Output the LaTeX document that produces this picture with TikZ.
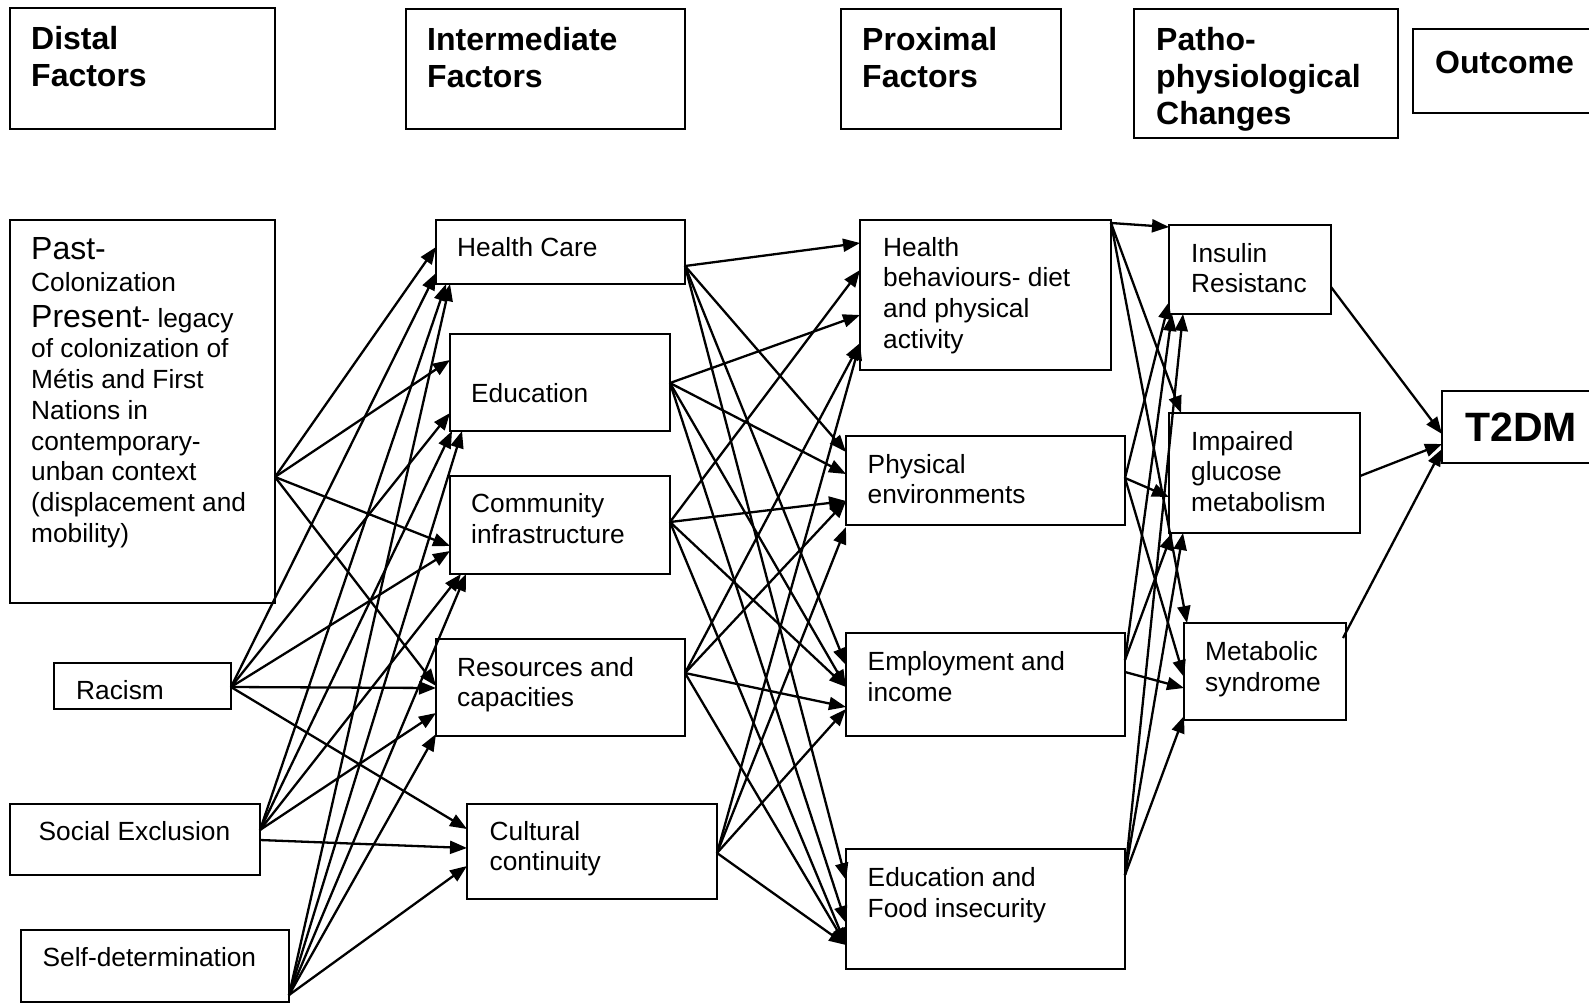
\documentclass[tikz,border=0pt]{standalone}
\usepackage{fontspec}
\setmainfont{Liberation Sans}
\usetikzlibrary{arrows.meta}
\begin{document}
\begin{tikzpicture}[x=1pt,y=-1pt,
  box/.style={draw, line width=2pt, anchor=north west, inner sep=0pt, outer sep=0pt},
  hdr/.style={anchor=north west, inner sep=0pt, align=left, font=\fontsize{32}{37}\selectfont\bfseries},
  txt/.style={anchor=north west, inner sep=0pt, align=left, font=\fontsize{26.3}{30.7}\selectfont},
  arr/.style={line width=2.3pt, -{Triangle[length=17pt,width=13pt]}}]
\fill[white] (0,0) rectangle (1589,1004);
\useasboundingbox (0,0) rectangle (1589,1004);

% header boxes
\node[box, minimum width=265pt, minimum height=121pt] (hd) at (10,8) {};
\node[box, minimum width=279pt, minimum height=120pt] (hi) at (406,9) {};
\node[box, minimum width=220pt, minimum height=120pt] (hp) at (841,9) {};
\node[box, minimum width=264pt, minimum height=129pt] (hpc) at (1134,9) {};
\node[box, minimum width=190pt, minimum height=84pt] (ho) at (1413,29) {};
\node[hdr] (hd-t) at (31,26.5) {Distal\\Factors};
\node[hdr] (hi-t) at (427,27.5) {Intermediate\\Factors};
\node[hdr] (hp-t) at (862,27.5) {Proximal\\Factors};
\node[hdr] (hpc-t) at (1156,27.5) {Patho-\\physiological\\Changes};
\node[hdr] (ho-t) at (1435,50.5) {Outcome};

% distal
\node[box, minimum width=265pt, minimum height=383pt] (past) at (10,220) {};
\node[box, minimum width=177pt, minimum height=46pt] (racism) at (54,663) {};
\node[box, minimum width=250pt, minimum height=71pt] (se) at (10,804) {};
\node[box, minimum width=268pt, minimum height=72pt] (sd) at (21,930) {};
\node[txt] (past-t) at (31,237) {{\fontsize{32}{30.7}\selectfont Past-}\\[1.3pt]
Colonization\\[5.3pt]
{\fontsize{32}{30.7}\selectfont Present}- legacy\\
of colonization of\\
Métis and First\\
Nations in\\
contemporary-\\
unban context\\
(displacement and\\
mobility)};
\node[txt] (racism-t) at (76,680) {Racism};
\node[txt] (se-t) at (38.5,821) {Social Exclusion};
\node[txt] (sd-t) at (42.5,947.5) {Self-determination};

% intermediate
\node[box, minimum width=249pt, minimum height=64pt] (hc) at (436,220) {};
\node[box, minimum width=220pt, minimum height=97pt] (edu) at (450,334) {};
\node[box, minimum width=220pt, minimum height=98pt] (comm) at (450,476) {};
\node[box, minimum width=249pt, minimum height=97pt] (res) at (436,639) {};
\node[box, minimum width=250pt, minimum height=95pt] (cult) at (467,804) {};
\node[txt] (hc-t) at (457,237) {Health Care};
\node[txt] (edu-t) at (471,383) {Education};
\node[txt] (comm-t) at (471,493.5) {Community\\infrastructure};
\node[txt] (res-t) at (457,657) {Resources and\\capacities};
\node[txt] (cult-t) at (489.5,821) {Cultural\\continuity};

% proximal
\node[box, minimum width=251pt, minimum height=150pt] (hb) at (860,220) {};
\node[box, minimum width=279pt, minimum height=89pt] (pe) at (846,436) {};
\node[box, minimum width=279pt, minimum height=103pt] (ei) at (846,633) {};
\node[box, minimum width=279pt, minimum height=120pt] (ef) at (846,849) {};
\node[txt] (hb-t) at (883,237) {Health\\behaviours- diet\\and physical\\activity};
\node[txt] (pe-t) at (867.5,454) {Physical\\environments};
\node[txt] (ei-t) at (867.5,651.6) {Employment and\\income};
\node[txt] (ef-t) at (867.5,867.5) {Education and\\Food insecurity};

% patho
\node[box, minimum width=162pt, minimum height=89pt] (ir) at (1169,225) {};
\node[box, minimum width=191pt, minimum height=120pt] (ig) at (1169,413) {};
\node[box, minimum width=162pt, minimum height=97pt] (ms) at (1184,623) {};
\node[txt] (ir-t) at (1191,243) {Insulin\\Resistanc};
\node[txt] (ig-t) at (1191,431) {Impaired\\glucose\\metabolism};
\node[txt] (ms-t) at (1205,641.5) {Metabolic\\syndrome};

% outcome
\node[box, minimum width=160pt, minimum height=72pt] (t2dm) at (1442,391) {};
\node[anchor=north west, inner sep=0pt, font=\fontsize{41}{47}\selectfont\bfseries] (t2dm-t) at (1465,412.7) {T2DM};

% distal -> intermediate
\draw[arr] (past.east |- 0,477) -- (hc.west |- 0,247);
\draw[arr] (past.east |- 0,477) -- (edu.west |- 0,360);
\draw[arr] (past.east |- 0,477) -- (comm.west |- 0,546);
\draw[arr] (past.east |- 0,477) -- (res.west |- 0,686);
\draw[arr] (racism.east |- 0,687) -- (hc.west |- 0,273);
\draw[arr] (racism.east |- 0,687) -- (edu.west |- 0,413);
\draw[arr] (racism.east |- 0,687) -- (comm.west |- 0,551);
\draw[arr] (racism.east |- 0,687) -- (res.west |- 0,688);
\draw[arr] (racism.east |- 0,687) -- (cult.west |- 0,829);
\draw[arr] (se.east |- 0,830) -- (hc.south -| 446,0);
\draw[arr] (se.east |- 0,830) -- (edu.south -| 452,0);
\draw[arr] (se.east |- 0,830) -- (comm.south -| 461,0);
\draw[arr] (se.east |- 0,830) -- (res.west |- 0,713);
\draw[arr] (se.east |- 0,840) -- (cult.west |- 0,848);
\draw[arr] (sd.east |- 0,995) -- (hc.south -| 450,0);
\draw[arr] (sd.east |- 0,995) -- (edu.south -| 462,0);
\draw[arr] (sd.east |- 0,995) -- (comm.south -| 466,0);
\draw[arr] (sd.east |- 0,995) -- (res.west |- 0,734);
\draw[arr] (sd.east |- 0,995) -- (cult.west |- 0,866);

% intermediate -> proximal
\draw[arr] (hc.east |- 0,266) -- (hb.west |- 0,243);
\draw[arr] (hc.east |- 0,266) -- (pe.west |- 0,452);
\draw[arr] (hc.east |- 0,266) -- (ei.west |- 0,665);
\draw[arr] (hc.east |- 0,266) -- (ef.west |- 0,880);
\draw[arr] (edu.east |- 0,383) -- (hb.west |- 0,315);
\draw[arr] (edu.east |- 0,383) -- (pe.west |- 0,474);
\draw[arr] (edu.east |- 0,383) -- (ei.west |- 0,687);
\draw[arr] (edu.east |- 0,383) -- (ef.west |- 0,923);
\draw[arr] (comm.east |- 0,522) -- (hb.west |- 0,270);
\draw[arr] (comm.east |- 0,522) -- (pe.west |- 0,501);
\draw[arr] (comm.east |- 0,522) -- (ei.west |- 0,687);
\draw[arr] (comm.east |- 0,522) -- (ef.west |- 0,945);
\draw[arr] (res.east |- 0,673) -- (hb.west |- 0,343);
\draw[arr] (res.east |- 0,673) -- (pe.west |- 0,501);
\draw[arr] (res.east |- 0,673) -- (ei.west |- 0,707);
\draw[arr] (res.east |- 0,673) -- (ef.west |- 0,945);
\draw[arr] (cult.east |- 0,853) -- (hb.west |- 0,343);
\draw[arr] (cult.east |- 0,853) -- (pe.west |- 0,527);
\draw[arr] (cult.east |- 0,853) -- (ei.west |- 0,709);
\draw[arr] (cult.east |- 0,853) -- (ef.west |- 0,945);

% proximal -> patho
\draw[arr] (hb.east |- 0,223) -- (ir.west |- 0,227);
\draw[arr] (hb.east |- 0,223) -- (ig.north -| 1181,0);
\draw[arr] (hb.east |- 0,223) -- (ms.north -| 1187,0);
\draw[arr] (pe.east |- 0,478) -- (ir.west |- 0,302);
\draw[arr] (pe.east |- 0,478) -- (ig.west |- 0,497);
\draw[arr] (pe.east |- 0,478) -- (ms.west |- 0,677);
\draw[arr] (ei.east |- 0,660) -- (ir.south -| 1172,0);
\draw[arr] (ei.east |- 0,660) -- (ig.south -| 1172,0);
\draw[arr] (ei.east |- 0,672) -- (ms.west |- 0,688);
\draw[arr] (ef.east |- 0,875) -- (ir.south -| 1183,0);
\draw[arr] (ef.east |- 0,875) -- (ig.south -| 1183,0);
\draw[arr] (ef.east |- 0,875) -- (ms.west |- 0,716);

% patho -> outcome
\draw[arr] (ir.east |- 0,287) -- (t2dm.west |- 0,434);
\draw[arr] (ig.east |- 0,476) -- (t2dm.west |- 0,444);
\draw[arr] ([xshift=-3pt,yshift=-15pt]ms.north east) -- (t2dm.west |- 0,449);
\end{tikzpicture}
\end{document}
